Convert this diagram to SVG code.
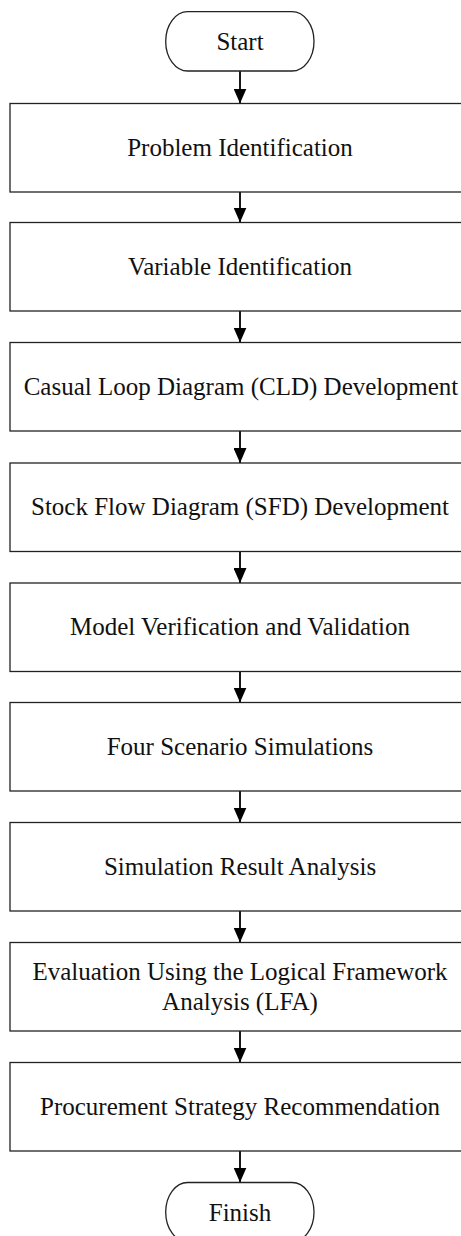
<svg xmlns="http://www.w3.org/2000/svg" width="461" height="1236" viewBox="0 0 461 1236">
<defs>
<marker id="ah" markerUnits="userSpaceOnUse" markerWidth="15" markerHeight="13" refX="15" refY="6.5" orient="auto" viewBox="0 0 15 13">
<path d="M0,0 L15,6.5 L0,13 z" fill="#000"/>
</marker>
<style>
.box{fill:#fff;stroke:#222;stroke-width:1.3}
.t{font-family:"Liberation Serif","Times New Roman",serif;font-size:25px;fill:#111;text-anchor:middle}
.c{stroke:#000;stroke-width:1.8;fill:none;marker-end:url(#ah)}
</style>
</defs>
<rect width="461" height="1236" fill="#fff"/>
<g id="connectors">
<line class="c" x1="240" y1="71" x2="240" y2="103.5"/>
<line class="c" x1="240" y1="192" x2="240" y2="222.5"/>
<line class="c" x1="240" y1="311" x2="240" y2="342.5"/>
<line class="c" x1="240" y1="431" x2="240" y2="463"/>
<line class="c" x1="240" y1="551.5" x2="240" y2="583"/>
<line class="c" x1="240" y1="671.5" x2="240" y2="702.5"/>
<line class="c" x1="240" y1="791" x2="240" y2="822.5"/>
<line class="c" x1="240" y1="911" x2="240" y2="942.5"/>
<line class="c" x1="240" y1="1031" x2="240" y2="1062.5"/>
<line class="c" x1="240" y1="1151" x2="240" y2="1182.5"/>
</g>
<g id="start">
<rect class="box" x="165.7" y="11.7" width="148.3" height="59.3" rx="22" ry="29.6"/>
<text class="t" x="240" y="49.5">Start</text>
</g>
<g id="problem">
<rect class="box" x="10" y="103.5" width="460" height="88.5"/>
<text class="t" x="240" y="155.5">Problem Identification</text>
</g>
<g id="variable">
<rect class="box" x="10" y="222.5" width="460" height="88.5"/>
<text class="t" x="240" y="275">Variable Identification</text>
</g>
<g id="cld">
<rect class="box" x="10" y="342.5" width="460" height="88.5"/>
<text class="t" x="241" y="395">Casual Loop Diagram (CLD) Development</text>
</g>
<g id="sfd">
<rect class="box" x="10" y="463" width="460" height="88.5"/>
<text class="t" x="240" y="515">Stock Flow Diagram (SFD) Development</text>
</g>
<g id="model">
<rect class="box" x="10" y="583" width="460" height="88.5"/>
<text class="t" x="240" y="635">Model Verification and Validation</text>
</g>
<g id="scenario">
<rect class="box" x="10" y="702.5" width="460" height="88.5"/>
<text class="t" x="240" y="755">Four Scenario Simulations</text>
</g>
<g id="analysis">
<rect class="box" x="10" y="822.5" width="460" height="88.5"/>
<text class="t" x="240" y="875">Simulation Result Analysis</text>
</g>
<g id="evaluation">
<rect class="box" x="10" y="942.5" width="460" height="88.5"/>
<text class="t" x="240" y="979.5">Evaluation Using the Logical Framework</text>
<text class="t" x="240" y="1009.5">Analysis (LFA)</text>
</g>
<g id="procurement">
<rect class="box" x="10" y="1062.5" width="460" height="88.5"/>
<text class="t" x="240" y="1115">Procurement Strategy Recommendation</text>
</g>
<g id="finish">
<rect class="box" x="165.7" y="1182.5" width="148.3" height="59.3" rx="22" ry="29.6"/>
<text class="t" x="240" y="1220.5">Finish</text>
</g>
</svg>
